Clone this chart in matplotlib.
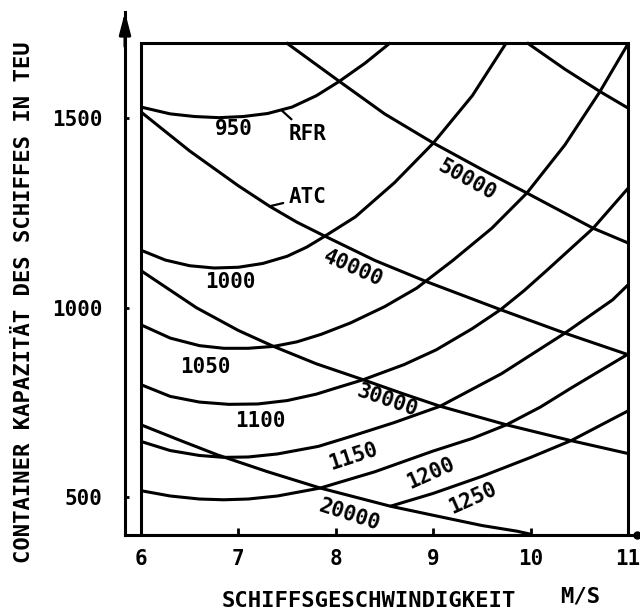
import matplotlib
matplotlib.use("Agg")
import matplotlib.pyplot as plt
from matplotlib.patches import Rectangle

plt.rcParams["font.family"] = ["DejaVu Sans Mono", "DejaVu Sans"]
plt.rcParams["font.weight"] = "bold"

# RFR contours (U-shaped): ship speed [m/s] -> container capacity [TEU]
rfr_950_v = [6.0, 6.3, 6.55, 6.8, 7.05, 7.3, 7.55, 7.8, 8.03, 8.3, 8.56]
rfr_950_t = [1530, 1512, 1505, 1502, 1505, 1513, 1530, 1560, 1597, 1646, 1700]
rfr_1000_v = [6.0, 6.25, 6.5, 6.75, 7.0, 7.25, 7.5, 7.7, 7.88, 8.2, 8.6, 9.0, 9.4, 9.75]
rfr_1000_t = [1152, 1126, 1111, 1105, 1107, 1117, 1136, 1160, 1188, 1240, 1330, 1435, 1560, 1700]
rfr_1050_v = [6.0, 6.3, 6.6, 6.85, 7.1, 7.36, 7.6, 7.85, 8.15, 8.5, 8.83, 9.2, 9.6, 9.96,
              10.35, 10.71, 11.0]
rfr_1050_t = [955, 920, 900, 893, 893, 898, 910, 930, 960, 1003, 1052, 1125, 1210, 1303,
              1430, 1571, 1698]
rfr_1100_v = [6.0, 6.3, 6.6, 6.9, 7.2, 7.5, 7.8, 8.0, 8.28, 8.7, 9.03, 9.4, 9.69, 9.93,
              10.17, 10.64, 11.0]
rfr_1100_t = [797, 766, 751, 745, 746, 755, 772, 788, 810, 850, 889, 945, 995, 1045,
              1100, 1210, 1316]
rfr_1150_v = [6.0, 6.3, 6.6, 6.85, 7.1, 7.4, 7.82, 8.15, 8.6, 9.07, 9.7, 10.35, 10.84, 11.0]
rfr_1150_t = [647, 623, 610, 605, 606, 614, 634, 660, 697, 740, 826, 933, 1021, 1061]
rfr_1200_v = [6.0, 6.3, 6.6, 6.85, 7.1, 7.4, 7.84, 8.4, 8.99, 9.4, 9.75, 10.1, 10.42, 11.0]
rfr_1200_t = [517, 503, 495, 493, 495, 503, 524, 567, 621, 655, 691, 738, 789, 878]
rfr_1250_v = [8.56, 9.0, 9.5, 10.0, 10.42, 11.0]
rfr_1250_t = [476, 510, 555, 605, 650, 728]

# ATC contours (falling)
atc_20000_v = [6.0, 6.4, 6.78, 7.3, 7.84, 8.2, 8.56, 9.0, 9.5, 9.86, 10.0]
atc_20000_t = [691, 650, 612, 567, 524, 500, 476, 452, 425, 410, 402]
atc_30000_v = [6.0, 6.57, 7.0, 7.36, 7.8, 8.28, 8.7, 9.07, 9.75, 10.4, 11.0]
atc_30000_t = [1098, 1000, 940, 898, 852, 810, 772, 740, 691, 650, 615]
atc_40000_v = [6.0, 6.5, 7.0, 7.32, 7.6, 7.88, 8.4, 8.93, 9.69, 10.35, 11.0]
atc_40000_t = [1517, 1414, 1322, 1268, 1226, 1190, 1125, 1069, 995, 933, 876]
atc_50000_v = [7.49, 8.04, 8.5, 9.0, 9.5, 9.96, 10.64, 11.0]
atc_50000_t = [1700, 1597, 1512, 1435, 1365, 1303, 1210, 1171]
atc_60000_v = [9.96, 10.35, 10.71, 11.0]
atc_60000_t = [1700, 1630, 1571, 1527]

x_ticks = [6, 7, 8, 9, 10, 11]
y_ticks = [500, 1000, 1500]

curves = [
    (rfr_950_v, rfr_950_t), (rfr_1000_v, rfr_1000_t), (rfr_1050_v, rfr_1050_t),
    (rfr_1100_v, rfr_1100_t), (rfr_1150_v, rfr_1150_t), (rfr_1200_v, rfr_1200_t),
    (rfr_1250_v, rfr_1250_t),
    (atc_20000_v, atc_20000_t), (atc_30000_v, atc_30000_t), (atc_40000_v, atc_40000_t),
    (atc_50000_v, atc_50000_t), (atc_60000_v, atc_60000_t),
]

# text label, position, rotation
labels = [
    ("950", 6.95, 1472, 0), ("1000", 6.92, 1067, 0), ("1050", 6.66, 843, 0),
    ("1100", 7.23, 702, 0), ("1150", 8.18, 606, 18), ("1200", 8.97, 562, 24),
    ("1250", 9.40, 496, 24), ("20000", 8.14, 454, -18), ("30000", 8.53, 756, -19),
    ("40000", 8.18, 1104, -24), ("50000", 9.35, 1338, -29),
]

W, H = 640, 614
fig = plt.figure(figsize=(W / 100, H / 100), dpi=100)
ax = fig.add_axes([125 / W, 79 / H, 512 / W, 523 / H])
x0, x1 = 5.836, 11.09
y0, y1 = 400, 1781
ax.set_xlim(x0, x1)
ax.set_ylim(y0, y1)

lw = 2.2
for s in ["top", "right"]:
    ax.spines[s].set_visible(False)
for s in ["left", "bottom"]:
    ax.spines[s].set_linewidth(lw)

# frame of the diagram
ax.add_patch(Rectangle((6, 400), 5, 1300, fill=False, lw=lw, ec="k", zorder=3))

for v, t in curves:
    ax.plot(v, t, color="k", lw=lw, solid_joinstyle="round", solid_capstyle="butt")

for s, x, y, r in labels:
    ax.text(x, y, s, rotation=r, rotation_mode="anchor", ha="center", va="center",
            fontsize=15)

# leader labels
ax.annotate("RFR", xy=(7.44, 1522), xytext=(7.71, 1459), ha="center", va="center",
            fontsize=15, arrowprops=dict(arrowstyle="-", lw=1.6, color="k",
                                         shrinkA=2, shrinkB=0))
ax.annotate("ATC", xy=(7.32, 1268), xytext=(7.71, 1292), ha="center", va="center",
            fontsize=15, arrowprops=dict(arrowstyle="-", lw=1.6, color="k",
                                         shrinkA=2, shrinkB=0))

# axis arrow and end dot
ax.annotate("", xy=(x0, y1), xytext=(x0, 1690), annotation_clip=False,
            arrowprops=dict(arrowstyle="-|>,head_length=1.3,head_width=0.34",
                            lw=lw, color="k", mutation_scale=10, shrinkA=0, shrinkB=0))
ax.plot([x1], [y0], "o", color="k", ms=5, clip_on=False)

ax.set_xticks(x_ticks)
ax.set_xticklabels([str(x) for x in x_ticks])
ax.set_yticks(y_ticks)
ax.set_yticklabels([str(y) for y in y_ticks])
ax.tick_params(axis="x", direction="in", length=5, width=2, pad=10, labelsize=15)
ax.tick_params(axis="y", direction="in", length=3, width=2, pad=16, labelsize=15)

fig.text(24 / W, 1 - 302 / H, "CONTAINER KAPAZITÄT DES SCHIFFES IN TEU", rotation=90,
         ha="center", va="center", fontsize=16)
fig.text(369 / W, 1 - 601 / H, "SCHIFFSGESCHWINDIGKEIT", ha="center", va="center",
         fontsize=16)
fig.text(580 / W, 1 - 596 / H, "M/S", ha="center", va="center", fontsize=16)

fig.savefig("out.png", dpi=100)
